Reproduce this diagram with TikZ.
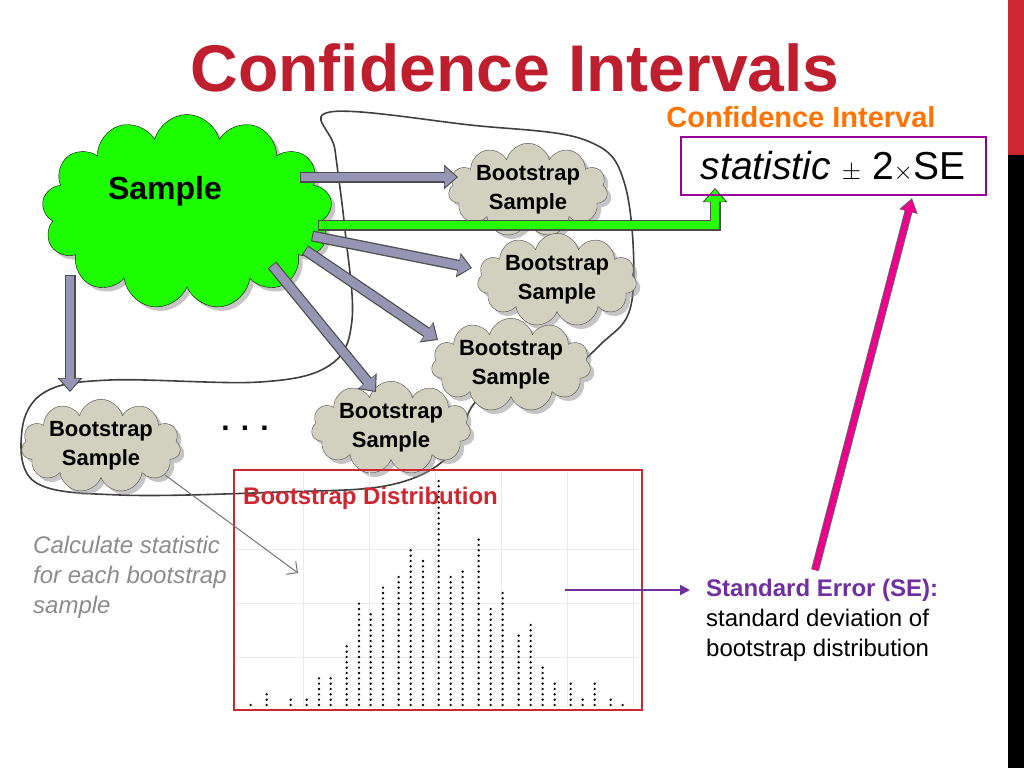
\documentclass[tikz,border=0pt]{standalone}
\usepackage{fontspec}
\setmainfont{Liberation Sans}
\usetikzlibrary{shapes.symbols,arrows.meta,shadows}
\definecolor{titlered}{RGB}{190,30,45}
\definecolor{cloudg}{RGB}{210,208,190}
\definecolor{arrowfill}{RGB}{150,150,180}
\definecolor{boxred}{RGB}{205,40,50}
\definecolor{sepurple}{RGB}{112,48,160}
\tikzset{
 bcloud/.style={cloud, cloud puffs=11, aspect=2.4, draw=black!70, fill=cloudg, minimum width=150pt, minimum height=62pt, inner sep=-2pt, align=center, font=\bfseries\fontsize{22}{29}\selectfont, drop shadow={shadow xshift=4pt,shadow yshift=-4pt,fill=black!45}},
 fatarrow/.style={draw=black!70, line width=11pt, -{Triangle[length=14pt,width=24pt]}},
}
\begin{document}
\begin{tikzpicture}[x=1pt,y=-1pt]
\useasboundingbox (0,0) rectangle (1024,768);
\fill[white] (0,0) rectangle (1024,768);
\fill[boxred] (1008,0) rectangle (1024,155);
\fill[black] (1008,155) rectangle (1024,768);
\node[font=\bfseries\fontsize{66}{68}\selectfont, text=titlered] (title) at (515,68) {Confidence Intervals};
% hand-drawn loop
\draw[black!75, line width=1.6pt] plot[smooth cycle, tension=0.6] coordinates {(330,112)(470,125)(585,140)(625,185)(632,300)(600,345)(540,392)(478,400)(450,455)(390,485)(280,492)(120,495)(35,482)(22,430)(45,392)(110,380)(260,382)(330,365)(352,320)(345,230)(335,150)};
% sample cloud
\node[cloud, cloud puffs=13, aspect=1.5, draw=black, fill=green!85!lime, minimum width=290pt, minimum height=195pt, drop shadow={shadow xshift=4pt,shadow yshift=-4pt,fill=black!45}] (sample) at (187,212) {};
\node[font=\bfseries\fontsize{32}{34}\selectfont] (samplet) at (165,191) {Sample};
% bootstrap clouds
\node[bcloud] (b1) at (528,190) {Bootstrap\\Sample};
\node[bcloud] (b2) at (557,280) {Bootstrap\\Sample};
\node[bcloud] (b3) at (511,365) {Bootstrap\\Sample};
\node[bcloud] (b4) at (391,428) {Bootstrap\\Sample};
\node[bcloud] (b5) at (101,446) {Bootstrap\\Sample};
\node[font=\bfseries\fontsize{30}{30}\selectfont] (dots) at (245,428) {. . .};
% fat arrows
\coordinate (a1s) at (300,177); \coordinate (a1e) at (458,177);
\coordinate (a2s) at (312,236); \coordinate (a2e) at (472,268);
\coordinate (a3s) at (305,250); \coordinate (a3e) at (438,340);
\coordinate (a4s) at (272,265); \coordinate (a4e) at (376,392);
\coordinate (a5s) at (70,275); \coordinate (a5e) at (70,392);
\foreach \s/\e in {a1s/a1e,a2s/a2e,a3s/a3e,a4s/a4e,a5s/a5e}{
 \draw[fatarrow] (\s) -- (\e);
 \draw[-{Triangle[length=12pt,width=20pt]}, arrowfill, line width=8.5pt, shorten >=1.5pt, shorten <=1pt] (\s) -- (\e);
}
% green arrow
\coordinate (g1) at (318,225); \coordinate (g2) at (715,225); \coordinate (g3) at (715,188);
\draw[black!70, line width=11pt, -{Triangle[length=14pt,width=24pt]}] (g1) -- (g2) -- (g3);
\draw[green!80!lime, line width=8.5pt, -{Triangle[length=12pt,width=20pt]}, shorten >=1.5pt, shorten <=1pt] (g1) -- (g2) -- (g3);
% CI label and box
\node[font=\bfseries\fontsize{29}{31}\selectfont, text=orange!90!red] (cil) at (801,117) {Confidence Interval};
\node[draw=violet!80!magenta, line width=2pt, minimum width=305pt, minimum height=58pt, inner sep=0pt, font=\fontsize{39}{41}\selectfont] (formula) at (833,166) {\textit{statistic} $\pm$ 2{\fontsize{24}{26}\selectfont$\times$}SE};
% magenta arrow
\coordinate (m1) at (815,570); \coordinate (m2) at (912,198);
\draw[black!60, line width=8pt, -{Triangle[length=14pt,width=18pt]}] (m1) -- (m2);
\draw[magenta, line width=6pt, -{Triangle[length=12pt,width=15pt]}, shorten >=1.5pt] (m1) -- (m2);
% red box with grid
\node[draw=boxred, line width=2pt, minimum width=408pt, minimum height=240pt, inner sep=0pt] (dist) at (438,590) {};
\foreach \gx in {303,369,435,501,567,633} \draw[black!8] (\gx,472) -- (\gx,708);
\foreach \gy in {549,603,657} \draw[black!8] (236,\gy) -- (640,\gy);
\node[anchor=west, inner sep=0pt, font=\bfseries\fontsize{24}{26}\selectfont, text=boxred] (distt) at (243,498) {Bootstrap Distribution};
\foreach \zx/\zy in {50/705,98/672,170/688,218/688,255/622,290/622,338/525,375/396,410/428,447/348,494/315,530/235,567/267,614/40,650/315,686/298,734/202,770/411,806/363,854/493,890/460,926/590,962/637,1010/637,1046/688,1082/637,1130/688,1166/705}{
 \pgfmathsetmacro{\px}{234+\zx/3}
 \pgfmathtruncatemacro{\n}{round((705-\zy)/16)}
 \foreach \k in {0,...,\n}{ \fill (\px,705-\k*5.333) circle (1.3pt); }
}
% left text
\node[anchor=west, inner sep=0pt, align=left, text=black!45, font=\itshape\fontsize{24}{30}\selectfont] (calc) at (33,577) {Calculate statistic\\for each bootstrap\\sample};
\coordinate (ts) at (165,475); \coordinate (te) at (298,573);
\draw[black!55, line width=1pt, -{Straight Barb[length=8pt]}] (ts) -- (te);
% SE text
\coordinate (p1) at (565,590); \coordinate (p2) at (690,590);
\draw[sepurple, line width=2pt, -{Triangle[length=10pt,width=10pt]}] (p1) -- (p2);
\node[anchor=west, inner sep=0pt, align=left, font=\fontsize{24}{30}\selectfont] (se) at (706,620) {\textcolor{sepurple}{\bfseries Standard Error (SE):}\\standard deviation of\\bootstrap distribution};
\end{tikzpicture}
\end{document}
